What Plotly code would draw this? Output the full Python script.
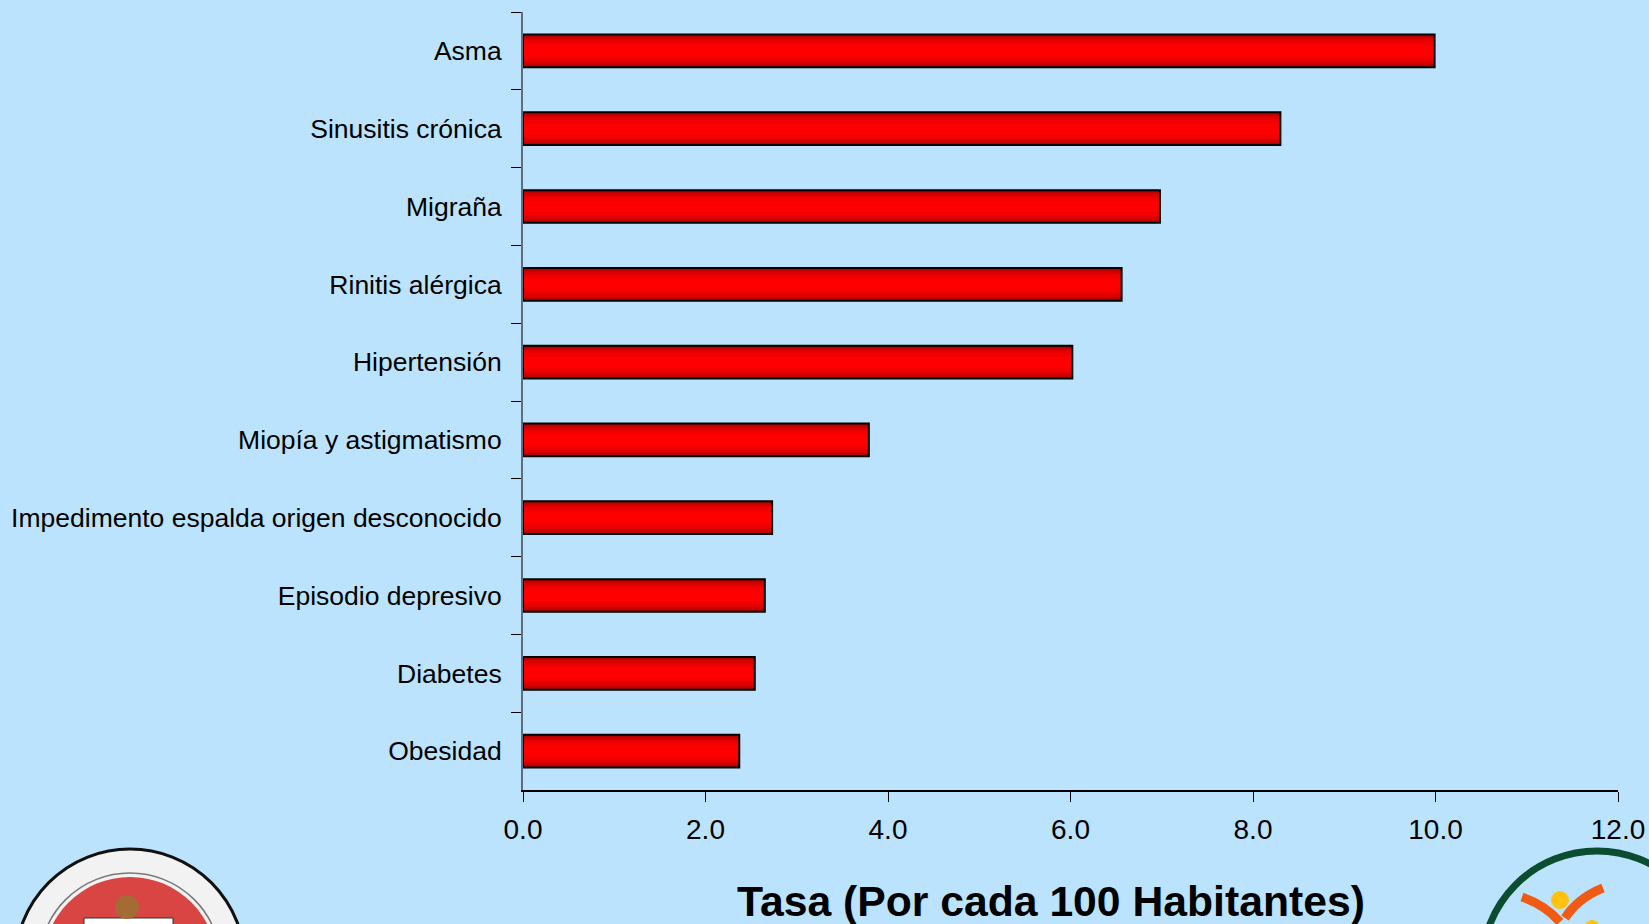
import plotly.graph_objects as go

W, H = 1649, 924
PLOT_L, PLOT_R, PLOT_T, PLOT_B = 523, 1618, 12, 790

categories = [
    "Asma", "Sinusitis crónica", "Migraña", "Rinitis alérgica", "Hipertensión",
    "Miopía y astigmatismo", "Impedimento espalda origen desconocido",
    "Episodio depresivo", "Diabetes", "Obesidad",
]
tasas = [9.99, 8.30, 6.98, 6.56, 6.02, 3.79, 2.73, 2.65, 2.54, 2.37]
x_ticks = [0, 2, 4, 6, 8, 10, 12]
x_title = "Tasa (Por cada 100 Habitantes)"

_BG = "#BBE3FD"
_FONT = "Arial, Liberation Sans, sans-serif"
# nested bars, dark edge -> bright centre, to fake the bar gradient
_SHADES = [
    (0.42, "#9E0000"), (0.40, "#B00000"), (0.37, "#C40000"), (0.33, "#D60000"),
    (0.28, "#E60000"), (0.22, "#F40000"), (0.14, "#FF0000"),
]


def px(x):
    return (x - PLOT_L) / (PLOT_R - PLOT_L)


def py(y):
    return (PLOT_B - y) / (PLOT_B - PLOT_T)


fig = go.Figure()
for w, c in _SHADES:
    fig.add_trace(go.Bar(
        x=tasas, y=categories, orientation="h", width=w,
        marker=dict(color=c, line=dict(width=0)), hoverinfo="skip",
    ))
fig.add_trace(go.Bar(
    x=tasas, y=categories, orientation="h", width=_SHADES[0][0],
    marker=dict(color="rgba(0,0,0,0)", line=dict(color="#000000", width=2)),
))

# logos at the bottom corners (rough approximation)
def circ(cx, cy, r, **kw):
    return dict(type="circle", xref="paper", yref="paper",
                x0=px(cx - r), x1=px(cx + r), y0=py(cy + r), y1=py(cy - r), **kw)


shapes = [
    circ(130, 964, 115, fillcolor="#F2F2F2", line=dict(color="#111111", width=3)),
    circ(130, 964, 91, fillcolor="rgba(0,0,0,0)", line=dict(color="#777777", width=1.5)),
    circ(130, 964, 87, fillcolor="#D84543", line=dict(width=0)),
    dict(type="rect", xref="paper", yref="paper", x0=px(84), x1=px(173), y0=py(930), y1=py(918),
         fillcolor="#FFFFFF", line=dict(color="#333333", width=1)),
    circ(127, 907, 12, fillcolor="#A46B35", line=dict(width=0)),
    circ(1597, 966, 115, fillcolor="rgba(0,0,0,0)", line=dict(color="#0B4D30", width=7)),
    dict(type="path", xref="paper", yref="paper",
         path=f"M {px(1522)} {py(897)} Q {px(1545)} {py(905)} {px(1560)} {py(922)}",
         line=dict(color="#F05A14", width=9)),
    dict(type="path", xref="paper", yref="paper",
         path=f"M {px(1603)} {py(888)} Q {px(1578)} {py(898)} {px(1565)} {py(918)}",
         line=dict(color="#F05A14", width=9)),
    circ(1560, 900, 9, fillcolor="#FFC20E", line=dict(width=0)),
    circ(1592, 927, 7, fillcolor="#FFC20E", line=dict(width=0)),
]

fig.update_layout(
    width=W, height=H,
    margin=dict(l=PLOT_L, r=W - PLOT_R, t=PLOT_T, b=H - PLOT_B, pad=0, autoexpand=False),
    paper_bgcolor=_BG, plot_bgcolor=_BG,
    barmode="overlay", showlegend=False,
    font=dict(family=_FONT, color="#000000"),
    xaxis=dict(
        range=[0, 12], tickvals=x_ticks, tickformat=".1f", automargin=False,
        ticks="outside", ticklen=10, tickcolor="#000000", tickwidth=1,
        tickfont=dict(size=28, family=_FONT, color="#000000"),
        ticklabelstandoff=4,
        showline=True, linecolor="#000000", linewidth=1.5,
        showgrid=False, zeroline=False,
    ),
    yaxis=dict(
        type="category", categoryorder="array", categoryarray=categories,
        autorange="reversed", tickson="boundaries", automargin=False,
        ticks="outside", ticklen=10, tickcolor="#000000", tickwidth=1,
        tickfont=dict(size=26.5, family=_FONT, color="#000000"),
        ticklabelstandoff=14,
        showline=True, linecolor="#5E6E80", linewidth=2, showgrid=False,
    ),
    annotations=[dict(
        text=f"<b>{x_title}</b>", x=px(1051), y=py(901), xref="paper", yref="paper",
        xanchor="center", yanchor="middle", showarrow=False,
        font=dict(size=42.7, family=_FONT, color="#000000"),
    )],
    shapes=shapes,
)

fig.write_html("out.html", config={"displayModeBar": False},
               post_script="document.body.style.margin='0';")
